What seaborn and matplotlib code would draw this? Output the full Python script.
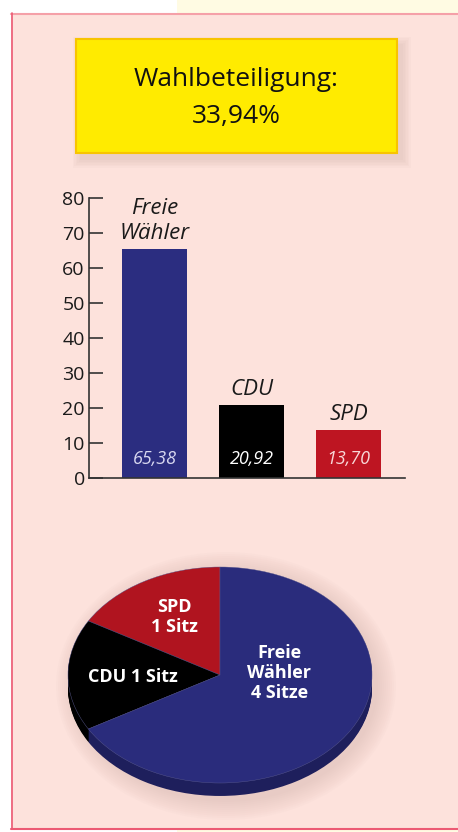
import pandas as pd
import matplotlib.pyplot as plt
import matplotlib.patches as mpatches
import seaborn as sns
import numpy as np

# --- Daten ---
parteien = ['Freie\nWähler', 'CDU', 'SPD']
prozent = [65.38, 20.92, 13.70]
prozent_text = ['65,38', '20,92', '13,70']
farben = ['#2b2d80', '#000000', '#be1522']
wert_farben = ['#d8d8f0', '#ffffff', '#f8d8d8']

sitze = [1, 1, 4]
sitz_labels = ['SPD\n1 Sitz', 'CDU 1 Sitz', 'Freie\nWähler\n4 Sitze']
sitz_farben = ['#b0141f', '#000000', '#2a2c7c']
seiten_farben = ['#6e0c14', '#000000', '#1e1f5c']

wahlbeteiligung = '33,94%'
yticks = [0, 10, 20, 30, 40, 50, 60, 70, 80]

W, H = 458, 832

sns.set_theme(style='white')
plt.rcParams['font.family'] = ['Open Sans', 'DejaVu Sans']


def rect(x0, y0, x1, y1):
    return [x0 / W, 1 - y1 / H, (x1 - x0) / W, (y1 - y0) / H]


fig = plt.figure(figsize=(W / 100, H / 100), dpi=100)
fig.patch.set_facecolor('white')

# Hintergrund in Pixelkoordinaten
bg = fig.add_axes([0, 0, 1, 1])
bg.set_xlim(0, W)
bg.set_ylim(H, 0)
bg.axis('off')
bg.add_patch(mpatches.Rectangle((177, 0), W - 177, H, color='#fffbe3', lw=0))
bg.add_patch(mpatches.Rectangle((11, 13), W + 10, 815, color='#fde2dc', lw=0))
bg.plot([11, W], [13.5, 13.5], color='#f5a0a8', lw=1.5)
bg.plot([11.5, 11.5], [13, 828.5], color='#ec5a74', lw=1.2)
bg.plot([11, W], [828.5, 828.5], color='#ec5a74', lw=1.5)

# Gelber Kasten mit Schatten
for i in range(6):
    s = 1 + i * 1.5
    bg.add_patch(mpatches.Rectangle((76 - s + 5, 39 - s + 6), 321 + 2 * s, 114 + 2 * s,
                                    color='#c0a098', alpha=0.05, lw=0))
bg.add_patch(mpatches.Rectangle((76, 39), 321, 114, facecolor='#ffeb00',
                                edgecolor='#f8c400', lw=1.5))
bg.text(236.5, 80, 'Wahlbeteiligung:', ha='center', va='center', fontsize=19, color='#111111')
bg.text(236.5, 116, wahlbeteiligung, ha='center', va='center', fontsize=19, color='#111111')

# Schatten hinter dem Kreis
for i in range(10):
    bg.add_patch(mpatches.Ellipse((226, 686), 304 + i * 4, 232 + i * 4,
                                  color='#c8a8a0', alpha=0.04, lw=0))

# --- Balkendiagramm ---
ax = fig.add_axes(rect(89, 198, 405, 478))
ax.set_facecolor('none')
df = pd.DataFrame({'Partei': parteien, 'Prozent': prozent})
sns.barplot(data=df, x='Partei', y='Prozent', hue='Partei', palette=farben,
            width=0.67, saturation=1, legend=False, linewidth=0, ax=ax)
ax.set_xlim(-0.675, 2.58)
ax.set_ylim(0, 80)
ax.set_yticks(yticks)
ax.set_xticks([])
ax.set_xlabel('')
ax.set_ylabel('')
for side in ['top', 'right']:
    ax.spines[side].set_visible(False)
for side in ['left', 'bottom']:
    ax.spines[side].set_color('#333333')
    ax.spines[side].set_linewidth(1.2)
ax.tick_params(axis='y', direction='in', length=10, width=1.2, color='#333333',
               labelsize=14, labelcolor='#1a1a1a', pad=3, left=True)

for i, (name, v) in enumerate(zip(parteien, prozent)):
    ax.annotate(name, (i, v), xytext=(0, 7), textcoords='offset points',
                ha='center', va='baseline', fontsize=16, style='italic',
                color='#1a1a1a', linespacing=1.25)
    ax.text(i, 4, prozent_text[i], ha='center', va='baseline', fontsize=13,
            style='italic', color=wert_farben[i])

# --- Kreisdiagramm (Sitze) ---
pax = fig.add_axes(rect(58, 557, 381, 810))
pax.set_facecolor('none')
tiefe = 0.12
for off in np.linspace(tiefe, 0.005, 14):
    pax.pie(sitze, colors=seiten_farben, startangle=90, counterclock=True,
            center=(0, -off), radius=1, wedgeprops=dict(lw=0))
pax.pie(sitze, colors=sitz_farben, startangle=90, counterclock=True,
        center=(0, 0), radius=1, wedgeprops=dict(lw=0.3, edgecolor='#5a5a90'))
pax.set_aspect('auto')
pax.set_xlim(-(220 - 58) / 152, (381 - 220) / 152)
pax.set_ylim((675 - 810) / 108, (675 - 557) / 108)

label_pos = [(-0.30, 0.54), (-0.57, -0.02), (0.39, 0.02)]
for (x, y), lab in zip(label_pos, sitz_labels):
    pax.text(x, y, lab, ha='center', va='center', fontsize=13, fontweight='bold',
             color='white', linespacing=1.15)

fig.savefig('out.png', dpi=100)
